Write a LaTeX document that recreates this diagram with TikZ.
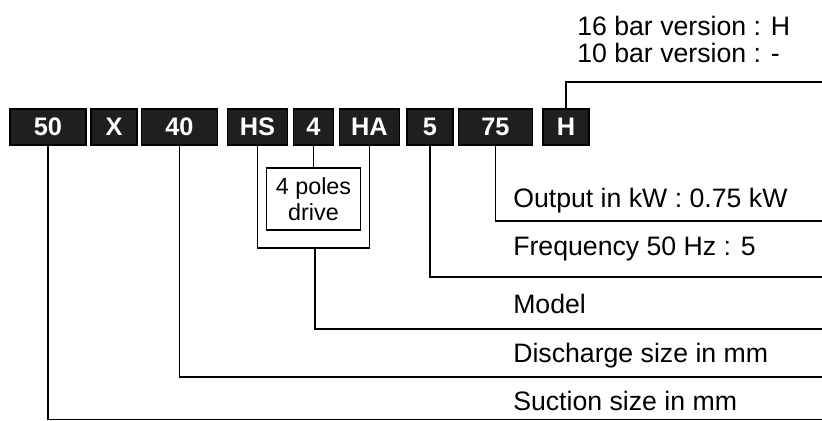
\documentclass[tikz,border=0pt]{standalone}
\usepackage{fontspec}
\setmainfont{Liberation Sans}
\usetikzlibrary{positioning}

\tikzset{
  codebox/.style={fill=black!88, draw=black, line width=0.8pt, text=white,
    font=\bfseries\fontsize{19}{19}\selectfont, minimum height=27pt, inner sep=0pt},
  txt/.style={anchor=base west, inner sep=0pt, font=\fontsize{20}{24}\selectfont},
  conn/.style={line width=1.4pt}
}

\begin{document}
\begin{tikzpicture}[x=0.75pt,y=-0.75pt]
    \useasboundingbox (0,0) rectangle (822,421);
    % code boxes
    \node[codebox, minimum width=57pt] (b50) at (48,127) {50};
    \node[codebox, minimum width=34.5pt] (bX) at (114,127) {X};
    \node[codebox, minimum width=57.5pt] (b40) at (179.5,127) {40};
    \node[codebox, minimum width=45.5pt] (bHS) at (257.5,127) {HS};
    \node[codebox, minimum width=30.5pt] (b4) at (313.5,127) {4};
    \node[codebox, minimum width=45.5pt] (bHA) at (369.5,127) {HA};
    \node[codebox, minimum width=34.5pt] (b5) at (430,127) {5};
    \node[codebox, minimum width=56pt] (b75) at (495.5,127) {75};
    \node[codebox, minimum width=34.5pt] (bH) at (566,127) {H};
    \node[draw, line width=1.4pt, minimum width=70.5pt, minimum height=46.5pt,
      align=center, font=\fontsize{17.5}{19}\selectfont] (drive) at (313.5,199) {4 poles\\drive};
    % labels
    \node[txt] (t16) at (577,36) {16 bar version : H};
    \node[txt] (t10) at (577,62) {10 bar version : -};
    \node[txt] (tOut) at (513,207) {Output in kW : 0.75 kW};
    \node[txt] (tFreq) at (513,255) {Frequency 50 Hz : 5};
    \node[txt] (tModel) at (513,313) {Model};
    \node[txt] (tDis) at (513,362) {Discharge size in mm};
    \node[txt] (tSuc) at (513,410) {Suction size in mm};
    % line ends
    \coordinate (eH) at (822,82);
    \coordinate (eOut) at (822,221);
    \coordinate (eFreq) at (822,277);
    \coordinate (eModel) at (822,329);
    \coordinate (eDis) at (822,377);
    \coordinate (eSuc) at (822,419.5);
    \coordinate (brk) at (315,248);
    % connectors
    \draw[conn] (bH.north) |- (eH);
    \draw[conn] (b75.south) |- (eOut);
    \draw[conn] (b5.south) |- (eFreq);
    \draw[conn] (b4.south) -- (drive.north);
    \draw[conn] (bHS.south) |- (brk) -| (bHA.south);
    \draw[conn] (brk) |- (eModel);
    \draw[conn] (b40.south) |- (eDis);
    \draw[conn] (b50.south) |- (eSuc);
\end{tikzpicture}
\end{document}
